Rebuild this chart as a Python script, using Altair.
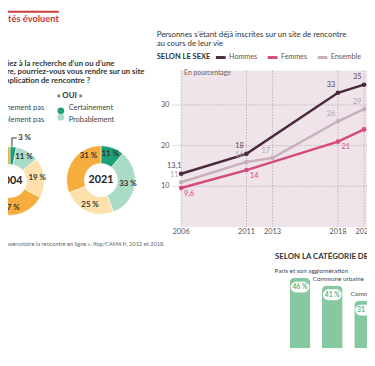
import altair as alt
import pandas as pd

# ---------------- data ----------------
ANSWERS = ["Certainement", "Probablement", "Probablement pas", "Certainement pas"]
ANSWER_COLORS = ["#1d9f78", "#a9dbc7", "#fde0ab", "#f5ae3e"]
DONUT_2004 = [3, 11, 19, 67]
DONUT_2021 = [11, 33, 25, 31]

SEXES = ["Hommes", "Femmes", "Ensemble"]
SEX_COLORS = ["#4a2a39", "#d64a7b", "#c9afbc"]
YEARS_HOMMES = [2006, 2011, 2018, 2020]
HOMMES = [13.1, 18, 33, 35]
YEARS_FEMMES = [2006, 2011, 2018, 2020]
FEMMES = [9.6, 14, 21, 24]
YEARS_ENSEMBLE = [2006, 2011, 2013, 2018, 2020]
ENSEMBLE = [11, 16, 17, 26, 29]
X_TICKS = [2006, 2011, 2013, 2018, 2020]
Y_TICKS = [10, 20, 30]

COMMUNES = ["Paris et son agglomération", "Commune urbaine", "Commune rurale"]
COMMUNE_PCT = [46, 41, 31]

# ---------------- layout / style ----------------
W, H = 367, 346
FONT = "Lato"
TEXT = "#333333"
TH = alt.Scale(domain=[0, 100])
# label angle tweaks (degrees) for a few donut labels
ANGLE_OVERRIDE = {("2004", "Certainement pas"): 178, ("2021", "Certainement pas"): 333,
                  ("2004", "Certainement"): 19}


def note(text, x, y, size=8, color=TEXT, weight="normal", align="left"):
    return alt.Chart(pd.DataFrame({"t": [text]})).mark_text(
        align=align, baseline="middle", fontSize=size, color=color, fontWeight=weight
    ).encode(x=alt.value(x), y=alt.value(y), text="t:N")


def rule(x, x2, y, y2, color, width=1, dash=None):
    kw = dict(color=color, strokeWidth=width)
    if dash:
        kw["strokeDash"] = dash
    return alt.Chart(pd.DataFrame({"a": [0]})).mark_rule(**kw).encode(
        x=alt.value(x), x2=alt.value(x2), y=alt.value(y), y2=alt.value(y2))


def donut_table(year, values):
    rows, cum = [], 0
    for a, v in zip(ANSWERS, values):
        ang = ANGLE_OVERRIDE.get((year, a))
        rows.append({"answer": a, "pct": v, "start": cum, "end": cum + v,
                     "ang": ang / 3.6 if ang is not None else cum + v / 2,
                     "label": f"{v} %"})
        cum += v
    return pd.DataFrame(rows)


def donut(year, values, cx, cy):
    base = alt.Chart(donut_table(year, values))
    arcs = base.mark_arc(innerRadius=17, outerRadius=35, stroke="white", strokeWidth=0.5).encode(
        theta=alt.Theta("start:Q", scale=TH, stack=False),
        theta2=alt.Theta2("end"),
        color=alt.Color("answer:N", scale=alt.Scale(domain=ANSWERS, range=ANSWER_COLORS), legend=None),
        x=alt.value(cx), y=alt.value(cy))
    lab_in = base.transform_filter("datum.pct >= 5").mark_text(
        radius=28, fontSize=8, fontWeight="bold", color=TEXT, baseline="middle").encode(
        theta=alt.Theta("ang:Q", scale=TH, stack=False), text="label:N",
        x=alt.value(cx), y=alt.value(cy))
    lab_out = base.transform_filter("datum.pct < 5").mark_text(
        radius=46, fontSize=8, fontWeight="bold", color=TEXT, baseline="middle").encode(
        theta=alt.Theta("ang:Q", scale=TH, stack=False), text="label:N",
        x=alt.value(cx), y=alt.value(cy))
    center = note(year, cx, cy, size=11, weight="bold", align="center", color="#222222")
    return [arcs, lab_in, lab_out, center]


# ---------------- left part ----------------
left = [
    rule(0, 52, 0, 0, "#c8413c", 2),
    note("Les mentalités évoluent", 52, 7, size=9.5, color="#c23b3b", weight="bold", align="right"),
    note("étiez à la recherche d’un ou d’une", -8, 53, size=7.9, weight="bold"),
    note("taire, pourriez-vous vous rendre sur un site", -10, 62, size=7.9, weight="bold"),
    note("application de rencontre ?", -7, 71, size=7.9, weight="bold"),
    note("« OUI »", 50, 86, size=8, weight="bold"),
    note("Certainement pas", 37, 98, size=7.6, color="#444444", align="right"),
    note("Probablement pas", 37, 111, size=7.6, color="#444444", align="right"),
    note("Certainement", 62, 98, size=7.6, color="#444444"),
    note("Probablement", 62, 111, size=7.6, color="#444444"),
    alt.Chart(pd.DataFrame({"answer": ANSWERS[:2]})).mark_circle(size=48, opacity=1).encode(
        x=alt.value(54),
        y=alt.Y("answer:N", scale=alt.Scale(domain=ANSWERS[:2], range=[98, 111]), axis=None),
        color=alt.Color("answer:N", scale=alt.Scale(domain=ANSWERS, range=ANSWER_COLORS), legend=None)),
    rule(4, 4, 129, 138, TEXT, 1),
    rule(4, 9, 129, 129, TEXT, 1),
    note("Observatoire la rencontre en ligne », Ifop/CAM4.fr, 2012 et 2018.", -6, 237,
         size=5.8, color="#666666"),
]
left += donut("2004", DONUT_2004, 2, 173)
left += donut("2021", DONUT_2021, 95, 172)

# ---------------- line chart ----------------
rows = []
for s, ys, vs in [("Hommes", YEARS_HOMMES, HOMMES), ("Femmes", YEARS_FEMMES, FEMMES),
                  ("Ensemble", YEARS_ENSEMBLE, ENSEMBLE)]:
    for y, v in zip(ys, vs):
        rows.append({"year": y, "series": s, "value": v, "label": f"{v:g}".replace(".", ",")})
line_df = pd.DataFrame(rows)

XS = alt.Scale(domain=[2006, 2020], range=[177, 364], nice=False, zero=False)
YS = alt.Scale(domain=[0, 38.5], range=[220, 60], nice=False, zero=False)
sex_color = alt.Color("series:N", scale=alt.Scale(domain=SEXES, range=SEX_COLORS),
                      legend=alt.Legend(orient="none", legendX=152, legendY=40, direction="horizontal",
                                        title="SELON LE SEXE", titleOrient="left", titleFontSize=7.7,
                                        titleFontWeight="bold", titleColor=TEXT, titlePadding=4,
                                        symbolType="stroke", symbolStrokeWidth=3, symbolSize=100,
                                        labelFontSize=7.3, labelColor="#555555", columnPadding=4,
                                        labelOffset=2))

one = pd.DataFrame({"a": [0]})
bg = alt.Chart(one).mark_rect(color="#eee4e9").encode(
    x=alt.X(datum=2006, scale=XS, axis=None), x2=alt.X2(datum=2023),
    y=alt.Y(datum=0, scale=YS, axis=None), y2=alt.Y2(datum=38.5))
hgrid = alt.Chart(pd.DataFrame({"v": Y_TICKS})).mark_rule(
    color="#b3a7ad", strokeWidth=0.8, strokeDash=[1.5, 1.5]).encode(
    y=alt.Y("v:Q", scale=YS, axis=None), x=alt.value(168), x2=alt.value(W + 10))
vgrid = alt.Chart(pd.DataFrame({"yr": X_TICKS})).mark_rule(
    color="#b3a7ad", strokeWidth=0.8, strokeDash=[1.5, 1.5]).encode(
    x=alt.X("yr:Q", scale=XS, axis=None), y=alt.value(60), y2=alt.value(220))
ylab = alt.Chart(pd.DataFrame({"v": Y_TICKS})).mark_text(
    align="right", baseline="middle", fontSize=7.5, color="#555555").encode(
    y=alt.Y("v:Q", scale=YS, axis=None), x=alt.value(165), text="v:Q")
xlab = alt.Chart(pd.DataFrame({"yr": X_TICKS})).mark_text(
    align="center", baseline="middle", fontSize=7.5, color="#555555").encode(
    x=alt.X("yr:Q", scale=XS, axis=None), y=alt.value(225), text="yr:N")
unit = note("En pourcentage", 180, 63, size=7, color="#666666")

lines = alt.Chart(line_df).mark_line(strokeWidth=2.5).encode(
    x=alt.X("year:Q", scale=XS, axis=None), y=alt.Y("value:Q", scale=YS, axis=None), color=sex_color)
points = alt.Chart(line_df).mark_circle(size=22, opacity=1).encode(
    x=alt.X("year:Q", scale=XS, axis=None), y=alt.Y("value:Q", scale=YS, axis=None), color=sex_color)

LABEL_STYLE = {"Hommes": ("#5a4852", -7, -8), "Femmes": ("#d64a7b", 8, 6), "Ensemble": ("#bba2af", -7, -7)}
labels = []
for s in SEXES:
    col, dx, dy = LABEL_STYLE[s]
    labels.append(alt.Chart(line_df).transform_filter(f"datum.series == '{s}'").mark_text(
        fontSize=7.5, color=col, dx=dx, dy=dy, baseline="middle").encode(
        x=alt.X("year:Q", scale=XS, axis=None), y=alt.Y("value:Q", scale=YS, axis=None), text="label:N"))

line_chart = alt.layer(bg, hgrid, vgrid, ylab, xlab, unit, lines, points, *labels)

line_titles = [
    note("Personnes s’étant déjà inscrites sur un  site de rencontre", 152, 24, size=8),
    note("au cours de leur vie", 152, 33, size=8),
]

# ---------------- bars ----------------
bar_df = pd.DataFrame({"commune": COMMUNES, "pct": COMMUNE_PCT,
                       "label": [f"{v} %" for v in COMMUNE_PCT]})
BX = alt.Scale(domain=COMMUNES, range=[282, 381], paddingInner=0.36, paddingOuter=0.18)
BY = alt.Scale(domain=[0, 50], range=[344, 265.7], nice=False)
bx = alt.X("commune:N", scale=BX, axis=None, sort=COMMUNES)
by = alt.Y("pct:Q", scale=BY, axis=None)
PILL = ("M -0.42 -0.58 L 0.42 -0.58 A 0.58 0.58 0 0 1 0.42 0.58 "
        "L -0.42 0.58 A 0.58 0.58 0 0 1 -0.42 -0.58 Z")
bars = alt.Chart(bar_df).mark_bar(color="#86c8a0", cornerRadiusTopLeft=5, cornerRadiusTopRight=5).encode(
    x=bx, y=by)
pills = alt.Chart(bar_df).mark_point(shape=PILL, filled=True, color="white", opacity=1,
                                     size=361, yOffset=9.5).encode(x=bx, y=by)
pill_txt = alt.Chart(bar_df).mark_text(fontSize=7, fontWeight="bold", color="#5bb583",
                                       baseline="middle", yOffset=9.5).encode(x=bx, y=by, text="label:N")
BAR_LABEL_DX = [-26, -20, -14]
bar_labels = []
for c, dx in zip(COMMUNES, BAR_LABEL_DX):
    bar_labels.append(alt.Chart(bar_df).transform_filter(alt.datum.commune == c).mark_text(
        align="left", baseline="middle", fontSize=6.5, color="#444444", dx=dx, dy=-7).encode(
        x=bx, y=by, text="commune:N"))
bar_chart = alt.layer(bars, pills, pill_txt, *bar_labels)
bar_title = note("SELON LA CATÉGORIE DE COMMUNE", 273, 251, size=8, weight="bold")

chart = alt.layer(*left, *line_titles, line_chart, bar_chart, bar_title).resolve_scale(
    x="independent", y="independent", color="independent"
).properties(
    width=W, height=H, autosize=alt.AutoSizeParams(type="none"), padding=0
).configure(font=FONT).configure_view(strokeWidth=0)

chart.save("out.html", embed_options={"renderer": "svg", "actions": False})
